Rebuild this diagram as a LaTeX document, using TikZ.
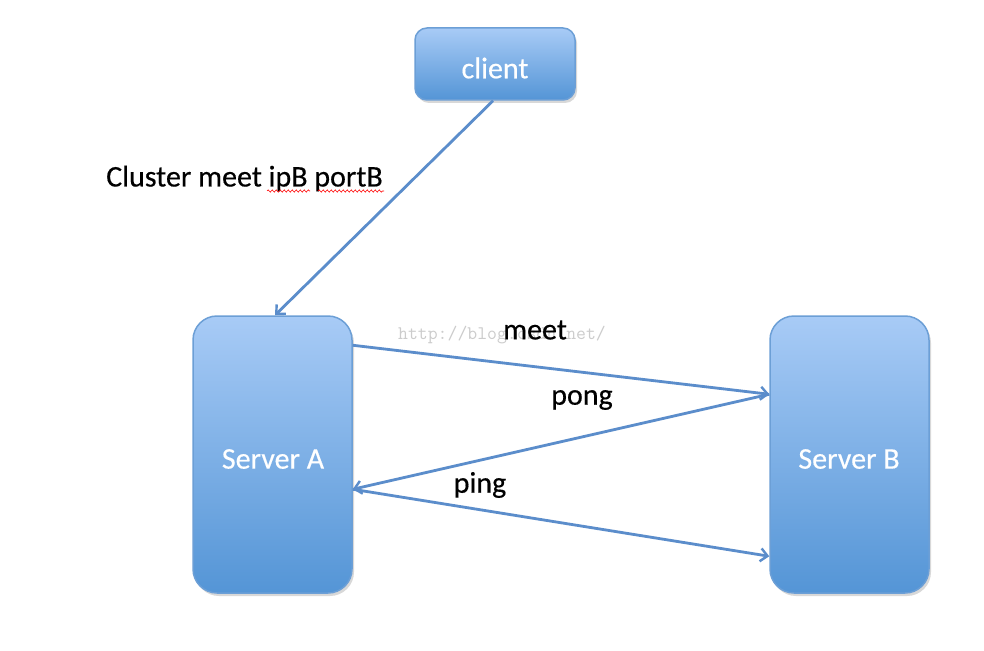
\documentclass[tikz,border=0pt]{standalone}
\usepackage{fontspec}
\setmainfont{Carlito}[FakeBold=0.4]
\newfontfamily\calib{Carlito}[FakeBold=0.4]
\usetikzlibrary{arrows.meta,shadows,decorations.pathmorphing,calc}
\definecolor{boxtop}{HTML}{A8CBF6}
\definecolor{boxbot}{HTML}{5495D6}
\definecolor{boxline}{HTML}{6C9FD6}
\definecolor{arrowc}{HTML}{5B8DCB}
\definecolor{wmgrey}{HTML}{CCCCCC}
\tikzset{
  srvbox/.style={draw=boxline, line width=1.5pt, top color=boxtop, bottom color=boxbot,
    inner sep=0pt,
    drop shadow={shadow xshift=2pt, shadow yshift=-3pt, opacity=0.25, fill=black!60}},
  boxtxt/.style={text=white, font=\calib\fontsize{30}{34}\selectfont, inner sep=0pt},
  conn/.style={draw=arrowc, line width=2.8pt, -{Straight Barb[length=7pt,width=13pt,line width=2.4pt]}},
  lbl/.style={font=\calib\fontsize{30}{34}\selectfont, text=black, inner sep=0pt},
  squig/.style={draw=red, line width=0.6pt, decorate, decoration={snake, segment length=4pt, amplitude=1.1pt}}
}
\begin{document}
\begin{tikzpicture}[x=1pt,y=-1pt]
\useasboundingbox[fill=white] (0,0) rectangle (984,650);
% nodes
\node[srvbox, rounded corners=12pt, minimum width=160pt, minimum height=72pt] (client) at (495,64) {};
\node[srvbox, rounded corners=24pt, minimum width=159pt, minimum height=277pt] (A) at (272.5,454.5) {};
\node[srvbox, rounded corners=24pt, minimum width=159pt, minimum height=277pt] (B) at (849.5,454.5) {};
\node[boxtxt] (clientt) at (495,68) {client};
\node[boxtxt] (At) at (273,459) {Server A};
\node[boxtxt] (Bt) at (849,459) {Server B};
% border points
\path (A.north east) ++(0,30) coordinate (a1);
\path (A.north east) ++(0,174) coordinate (a2);
\path (B.north west) ++(0,79) coordinate (b1);
\path (B.north west) ++(0,241) coordinate (b2);
\path (client.south) ++(-2,0) coordinate (c1);
\path (A.north) ++(2.5,0) coordinate (at);
% watermark
\node[font=\ttfamily\fontsize{19.2}{22}\selectfont, text=wmgrey, inner sep=0pt] (wm) at (502,335) {http://blog.csdn.net/};
% connectors
\draw[conn] (c1) -- (at);
\draw[conn] (a1) -- (b1);
\draw[conn] (b1) -- (a2);
\draw[conn] (a2) -- (b2);
% labels
\node[lbl] (cm) at (244.5,178.5) {Cluster meet ipB portB};
\node[lbl] (meet) at (535,330) {meet};
\node[lbl] (pong) at (582,400) {pong};
\node[lbl] (ping) at (480,485) {ping};
% spell-check squiggles
\draw[squig] (267,191) -- (310,191);
\draw[squig] (318,191) -- (384,191);
\end{tikzpicture}
\end{document}
